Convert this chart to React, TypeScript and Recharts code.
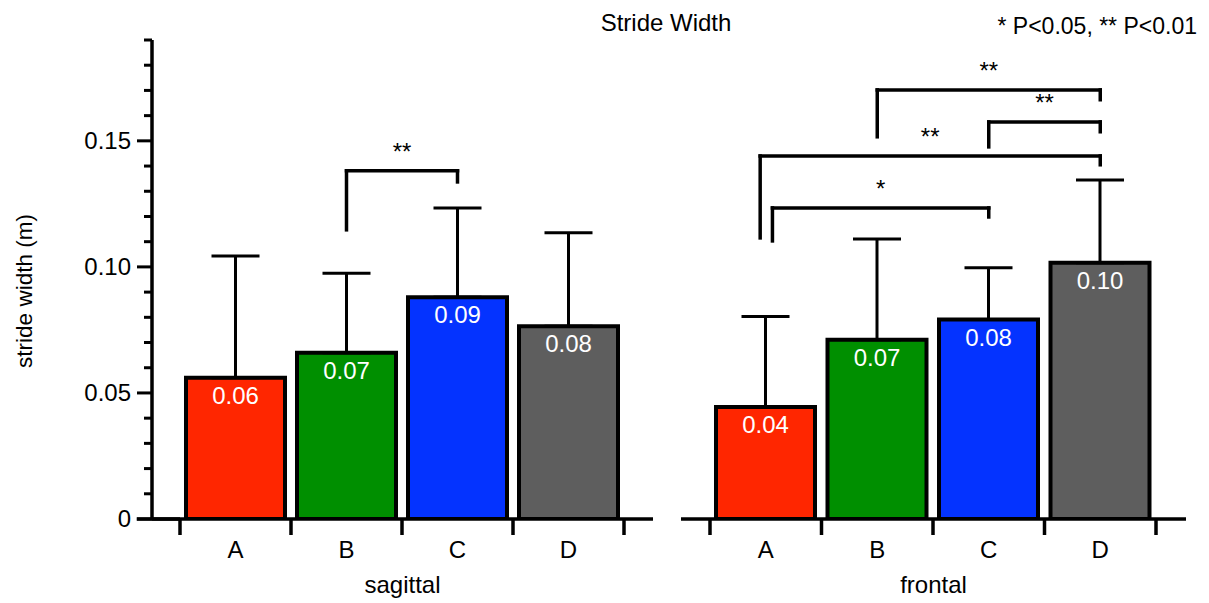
import React from "react";
import {
  Bar,
  BarChart,
  Cell,
  ErrorBar,
  LabelList,
  ReferenceLine,
  XAxis,
  YAxis,
} from "recharts";

const categories = ["A", "B", "C", "D"];
const barColors = ["#FF2600", "#008F00", "#0433FF", "#5E5E5E"];

// mean stride width (m) and its SD, per condition
const sagittalMean = [0.056, 0.0659, 0.088, 0.0765];
const sagittalSd = [0.0483, 0.0316, 0.0354, 0.037];
const frontalMean = [0.0444, 0.0711, 0.0791, 0.1016];
const frontalSd = [0.0359, 0.04, 0.0206, 0.0329];

const yTicks = [
  0, 0.01, 0.02, 0.03, 0.04, 0.05, 0.06, 0.07, 0.08, 0.09, 0.1, 0.11, 0.12,
  0.13, 0.14, 0.15, 0.16, 0.17, 0.18, 0.19,
];
const yTickLabels: Record<string, string> = {
  "0": "0",
  "0.05": "0.05",
  "0.1": "0.10",
  "0.15": "0.15",
};
// group boundaries (half steps) get a tick mark, integers get the letter
const xTicks = [0.5, 1, 1.5, 2, 2.5, 3, 3.5, 4, 4.5];

type Bracket = {
  from: number;
  to: number;
  y: number;
  fromEnd: number;
  toEnd: number;
  mark: string;
};

const sagittalBrackets: Bracket[] = [
  { from: 2, to: 3, y: 0.1381, fromEnd: 0.1147, toEnd: 0.1337, mark: "**" },
];
const frontalBrackets: Bracket[] = [
  { from: 2, to: 4, y: 0.1702, fromEnd: 0.1516, toEnd: 0.1663, mark: "**" },
  { from: 3, to: 4, y: 0.1575, fromEnd: 0.1476, toEnd: 0.1536, mark: "**" },
  { from: 0.95, to: 4, y: 0.144, fromEnd: 0.1115, toEnd: 0.1405, mark: "**" },
  { from: 1.06, to: 3, y: 0.1234, fromEnd: 0.1103, toEnd: 0.1198, mark: "*" },
];

const FONT = 24;
const INK = "#000";

const renderXTick = (props: any) => {
  const { x, y, payload } = props;
  const v = payload.value as number;
  if (Number.isInteger(v)) {
    return (
      <text x={x} y={y + 39} textAnchor="middle" fontSize={FONT} fill={INK}>
        {categories[v - 1]}
      </text>
    );
  }
  return (
    <line x1={x} x2={x} y1={y} y2={y + 16} stroke={INK} strokeWidth={3.5} />
  );
};

const renderYTick = (props: any) => {
  const { x, y, payload } = props;
  const label = yTickLabels[String(payload.value)];
  return (
    <g>
      <line
        x1={x - (label ? 15 : 8)}
        x2={x}
        y1={y}
        y2={y}
        stroke={INK}
        strokeWidth={3}
      />
      {label && (
        <text
          x={x - 21}
          y={y}
          dy="0.35em"
          textAnchor="end"
          fontSize={FONT}
          fill={INK}
        >
          {label}
        </text>
      )}
    </g>
  );
};

const bracketLines = (brackets: Bracket[], key: string) =>
  brackets.flatMap((b, i) => [
    <ReferenceLine
      key={`${key}-${i}-top`}
      xAxisId="pos"
      segment={[
        { x: b.from, y: b.y },
        { x: b.to, y: b.y },
      ]}
      stroke={INK}
      strokeWidth={3.5}
      strokeLinecap="square"
      ifOverflow="visible"
      label={{
        value: b.mark,
        position: "top",
        offset: 11,
        fill: INK,
        fontSize: FONT,
      }}
    />,
    <ReferenceLine
      key={`${key}-${i}-l`}
      xAxisId="pos"
      segment={[
        { x: b.from, y: b.fromEnd },
        { x: b.from, y: b.y },
      ]}
      stroke={INK}
      strokeWidth={3.5}
      strokeLinecap="square"
      ifOverflow="visible"
    />,
    <ReferenceLine
      key={`${key}-${i}-r`}
      xAxisId="pos"
      segment={[
        { x: b.to, y: b.toEnd },
        { x: b.to, y: b.y },
      ]}
      stroke={INK}
      strokeWidth={3.5}
      strokeLinecap="square"
      ifOverflow="visible"
    />,
  ]);

type PanelProps = {
  name: string;
  means: number[];
  sds: number[];
  brackets: Bracket[];
  showY: boolean;
  width: number;
  marginLeft: number;
  marginRight: number;
  padLeft: number;
  padRight: number;
};

function Panel({
  name,
  means,
  sds,
  brackets,
  showY,
  width,
  marginLeft,
  marginRight,
  padLeft,
  padRight,
}: PanelProps) {
  const rows = categories.map((c, i) => ({
    name: c,
    pos: i + 1,
    mean: means[i],
    err: [0, sds[i]],
  }));
  const padding = { left: padLeft, right: padRight };

  return (
    <BarChart
      width={width}
      height={603}
      data={rows}
      margin={{ top: 40, right: marginRight, left: marginLeft, bottom: 0 }}
      barSize={99}
    >
      <XAxis
        xAxisId="pos"
        dataKey="pos"
        type="number"
        domain={[0.5, 4.5]}
        allowDataOverflow
        ticks={xTicks}
        interval={0}
        tick={renderXTick}
        tickLine={false}
        tickSize={0}
        tickMargin={0}
        height={84}
        padding={padding}
        axisLine={{ stroke: INK, strokeWidth: 3.5 }}
        label={{
          value: name,
          position: "insideBottom",
          offset: 10,
          fill: INK,
          fontSize: FONT,
        }}
      />
      <XAxis
        xAxisId="cat"
        dataKey="name"
        type="category"
        hide
        height={0}
        padding={padding}
      />
      <YAxis
        domain={[0, 0.19]}
        allowDataOverflow
        ticks={yTicks}
        interval={0}
        width={152}
        hide={!showY}
        tick={renderYTick}
        tickLine={false}
        tickSize={0}
        tickMargin={0}
        axisLine={{ stroke: INK, strokeWidth: 3.5 }}
      />
      <Bar
        xAxisId="cat"
        dataKey="mean"
        stroke={INK}
        strokeWidth={4}
        isAnimationActive={false}
      >
        {rows.map((r, i) => (
          <Cell key={r.name} fill={barColors[i]} />
        ))}
        <ErrorBar
          dataKey="err"
          width={24}
          stroke={INK}
          strokeWidth={3}
          isAnimationActive={false}
        />
        <LabelList
          dataKey="mean"
          position="insideTop"
          offset={9}
          fill="#fff"
          stroke="none"
          fontSize={FONT}
          formatter={(v: any) => Number(v).toFixed(2)}
        />
      </Bar>
      {showY && (
        <ReferenceLine
          xAxisId="pos"
          segment={[
            { x: 0.11, y: 0 },
            { x: 0.5, y: 0 },
          ]}
          stroke={INK}
          strokeWidth={3.5}
          ifOverflow="visible"
        />
      )}
      {bracketLines(brackets, name)}
    </BarChart>
  );
}

export default function App() {
  return (
    <div
      style={{
        position: "absolute",
        left: 0,
        top: 0,
        width: 1209,
        height: 603,
        background: "#fff",
        fontFamily: '"Liberation Sans", Arial, Helvetica, sans-serif',
      }}
    >
      <div style={{ position: "absolute", left: 0, top: 0 }}>
        <Panel
          name="sagittal"
          means={sagittalMean}
          sds={sagittalSd}
          brackets={sagittalBrackets}
          showY
          width={665}
          marginLeft={0}
          marginRight={12}
          padLeft={28}
          padRight={29}
        />
      </div>
      <div style={{ position: "absolute", left: 660, top: 0 }}>
        <Panel
          name="frontal"
          means={frontalMean}
          sds={frontalSd}
          brackets={frontalBrackets}
          showY={false}
          width={549}
          marginLeft={21}
          marginRight={23}
          padLeft={29}
          padRight={30}
        />
      </div>
      <svg
        width={1209}
        height={603}
        style={{ position: "absolute", left: 0, top: 0, pointerEvents: "none" }}
      >
        <text x={666} y={31} textAnchor="middle" fontSize={FONT} fill={INK}>
          Stride Width
        </text>
        <text x={1197} y={34} textAnchor="end" fontSize={23} fill={INK}>
          * P&lt;0.05, ** P&lt;0.01
        </text>
        <text
          x={32}
          y={291}
          textAnchor="middle"
          fontSize={22.5}
          fill={INK}
          transform="rotate(-90, 32, 291)"
        >
          stride width (m)
        </text>
      </svg>
    </div>
  );
}
